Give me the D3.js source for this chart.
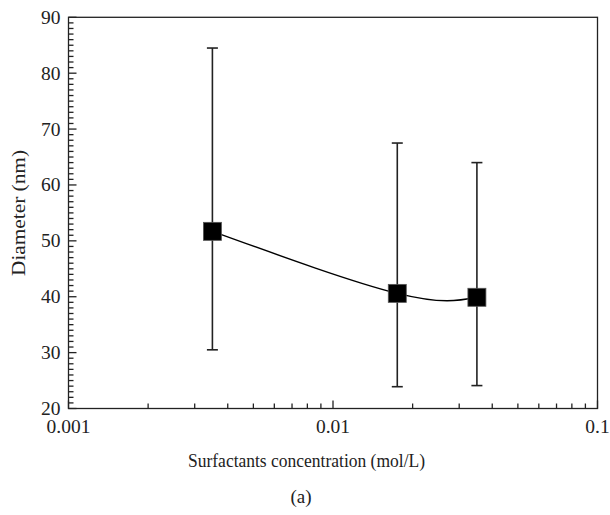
<!DOCTYPE html>
<html><head><meta charset="utf-8">
<script src="https://cdn.jsdelivr.net/npm/d3@7"></script>
<style>body{margin:0;background:#fff}svg{display:block}</style>
</head><body><svg id="c" width="610" height="515"></svg>
<script>
const concentration = [0.0035, 0.0175, 0.035];
const diameter = [51.7, 40.6, 39.9];
const errUpper = [84.5, 67.5, 64.0];
const errLower = [30.5, 23.9, 24.1];
const xTickValues = [0.001, 0.01, 0.1];
const xTickLabels = ["0.001", "0.01", "0.1"];
const yTickValues = [20, 30, 40, 50, 60, 70, 80, 90];

const svg = d3.select("#c")
  .attr("font-family", "'Liberation Serif', 'Times New Roman', Times, 'DejaVu Serif', serif");
const m = {l: 68.5, r: 597.5, t: 17.3, b: 408.5};
const x = d3.scaleLog().domain([0.001, 0.1]).range([m.l, m.r]);
const y = d3.scaleLinear().domain([20, 90]).range([m.b, m.t]);
const ink = "#222";

svg.append("rect").attr("x", m.l).attr("y", m.t).attr("width", m.r - m.l).attr("height", m.b - m.t)
  .attr("fill", "none").attr("stroke", ink).attr("stroke-width", 1.3);

const yMinor = d3.range(20, 90.01, 1);
svg.append("g").selectAll("line").data(yMinor).join("line")
  .attr("x1", m.l).attr("x2", d => m.l + (d % 10 === 0 ? 8 : 5))
  .attr("y1", d => y(d)).attr("y2", d => y(d)).attr("stroke", ink).attr("stroke-width", 1.3);
svg.append("g").selectAll("text").data(yTickValues).join("text")
  .attr("x", m.l - 8).attr("y", d => y(d)).attr("dy", "0.33em").attr("text-anchor", "end")
  .attr("font-size", 19.5).attr("fill", ink).text(d => d);

const xMinor = [];
[0.001, 0.01].forEach(dec => { for (let k = 2; k <= 9; k++) xMinor.push(dec * k); });
svg.append("g").selectAll("line").data(xMinor).join("line")
  .attr("x1", d => x(d)).attr("x2", d => x(d)).attr("y1", m.b).attr("y2", m.b - 5)
  .attr("stroke", ink).attr("stroke-width", 1.3);
svg.append("g").selectAll("line").data(xTickValues).join("line")
  .attr("x1", d => x(d)).attr("x2", d => x(d)).attr("y1", m.b).attr("y2", m.b - 8)
  .attr("stroke", ink).attr("stroke-width", 1.3);
svg.append("g").selectAll("text").data(xTickValues).join("text")
  .attr("x", d => x(d)).attr("y", 433).attr("text-anchor", "middle")
  .attr("font-size", 19.5).attr("fill", ink).text((d, i) => xTickLabels[i]);

svg.append("text").attr("x", 306.5).attr("y", 467).attr("text-anchor", "middle")
  .attr("font-size", 19).attr("fill", ink)
  .attr("textLength", 237).attr("lengthAdjust", "spacingAndGlyphs")
  .text("Surfactants concentration (mol/L)");
svg.append("text").attr("transform", `translate(25,213) rotate(-90)`)
  .attr("text-anchor", "middle").attr("font-size", 19).attr("fill", ink)
  .attr("textLength", 126).attr("lengthAdjust", "spacingAndGlyphs")
  .text("Diameter (nm)");
svg.append("text").attr("x", 301).attr("y", 503).attr("text-anchor", "middle")
  .attr("font-size", 19).attr("fill", ink).text("(a)");

const pts = concentration.map((c, i) => ({c, d: diameter[i], hi: errUpper[i], lo: errLower[i]}));

const eb = svg.append("g").attr("stroke", ink).attr("stroke-width", 1.6);
pts.forEach(p => {
  eb.append("line").attr("x1", x(p.c)).attr("x2", x(p.c)).attr("y1", y(p.hi)).attr("y2", y(p.lo));
  eb.append("line").attr("x1", x(p.c) - 5.5).attr("x2", x(p.c) + 5.5).attr("y1", y(p.hi)).attr("y2", y(p.hi));
  eb.append("line").attr("x1", x(p.c) - 5.5).attr("x2", x(p.c) + 5.5).attr("y1", y(p.lo)).attr("y2", y(p.lo));
});

const line = d3.line().x(p => x(p.c)).y(p => y(p.d)).curve(d3.curveNatural);
svg.append("path").attr("d", line(pts)).attr("fill", "none").attr("stroke", "#000").attr("stroke-width", 1.4);

svg.append("g").selectAll("rect").data(pts).join("rect")
  .attr("x", p => x(p.c) - 9).attr("y", p => y(p.d) - 9).attr("width", 18).attr("height", 18)
  .attr("fill", "#000").attr("stroke", "#555").attr("stroke-width", 0.8);
</script></body></html>
